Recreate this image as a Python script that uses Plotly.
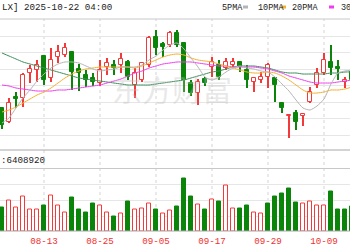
import plotly.graph_objects as go

# ---- data ----
tick_idx = [6, 14, 22, 30, 38, 46]
tick_labels = ["08-13", "08-25", "09-05", "09-17", "09-29", "10-09"]

opens = [4.60, 3.90, 5.15, 5.10, 6.35, 6.50, 7.20, 6.10, 7.15, 7.25,
         7.40, 6.55, 6.25, 6.10, 5.85, 6.65, 6.75, 6.75, 6.90, 5.75,
         6.00, 6.75, 8.15, 7.80, 7.75, 8.35, 7.85, 5.85, 5.35, 6.05,
         6.65, 6.75, 6.60, 6.75, 6.90, 6.50, 5.90, 6.00, 6.15, 6.10,
         4.85, 4.20, 4.35, 4.20, 4.90, 5.75, 6.35, 6.90, 6.65, 5.90, 6.40]
highs = [4.65, 5.10, 5.40, 6.35, 6.75, 7.00, 7.25, 7.60, 7.75, 7.85,
         7.45, 6.80, 6.50, 6.35, 7.00, 7.10, 7.00, 7.35, 7.00, 6.60,
         6.90, 8.20, 8.50, 7.90, 8.45, 8.50, 7.90, 6.00, 6.05, 6.15,
         7.15, 7.00, 7.10, 7.10, 6.95, 6.75, 6.15, 6.40, 6.85, 6.15,
         4.90, 4.25, 4.50, 4.30, 5.65, 6.60, 7.35, 7.75, 7.00, 6.15, 6.50]
lows = [3.55, 3.85, 4.60, 4.65, 5.85, 5.90, 5.75, 5.90, 6.85, 7.15,
        5.50, 5.45, 5.65, 5.70, 5.70, 6.25, 6.25, 6.35, 6.00, 5.10,
        5.90, 6.65, 7.25, 7.15, 7.65, 7.65, 5.40, 5.20, 4.75, 5.70,
        6.15, 6.00, 6.50, 6.65, 6.40, 5.60, 5.40, 5.85, 5.60, 4.90,
        4.35, 3.10, 3.50, 3.70, 4.85, 5.60, 6.25, 6.25, 6.00, 5.60, 5.90]
closes = [3.75, 4.85, 5.05, 6.25, 6.55, 6.75, 6.00, 7.00, 7.40, 7.60,
          6.40, 6.35, 6.00, 5.90, 6.50, 6.85, 6.60, 7.05, 6.15, 6.35,
          6.85, 8.10, 7.60, 7.65, 8.35, 7.75, 6.00, 5.35, 5.90, 5.85,
          6.90, 6.15, 6.90, 6.90, 6.65, 6.00, 6.10, 6.15, 6.75, 5.75,
          4.60, 4.25, 3.90, 4.30, 5.40, 6.35, 7.00, 6.60, 6.55, 6.00, 6.00]

ma5 = [3.85, 4.10, 4.60, 5.10, 5.50, 5.95, 6.30, 6.60, 6.80, 6.90,
       6.90, 6.85, 6.70, 6.55, 6.45, 6.50, 6.55, 6.65, 6.65, 6.65,
       6.75, 7.00, 7.20, 7.50, 7.75, 7.85, 7.55, 7.10, 6.65, 6.15,
       6.00, 6.15, 6.40, 6.60, 6.70, 6.60, 6.55, 6.45, 6.40, 6.15,
       5.80, 5.45, 5.00, 4.60, 4.50, 4.70, 5.05, 5.80, 6.35, 6.45, 6.50]
ma10 = [4.40, 4.50, 4.65, 4.85, 5.05, 5.25, 5.40, 5.60, 5.85, 6.10,
        6.30, 6.45, 6.55, 6.60, 6.65, 6.65, 6.65, 6.65, 6.65, 6.60,
        6.70, 6.85, 7.00, 7.15, 7.25, 7.30, 7.25, 7.10, 7.00, 6.95,
        6.90, 6.80, 6.70, 6.60, 6.50, 6.40, 6.35, 6.35, 6.40, 6.35,
        6.20, 6.00, 5.75, 5.50, 5.35, 5.35, 5.40, 5.50, 5.50, 5.55, 5.65]
ma20 = [5.75, 5.70, 5.60, 5.55, 5.50, 5.45, 5.45, 5.45, 5.50, 5.50,
        5.55, 5.60, 5.65, 5.70, 5.75, 5.85, 5.95, 6.05, 6.20, 6.35,
        6.45, 6.60, 6.70, 6.80, 6.85, 6.90, 6.90, 6.90, 6.85, 6.80,
        6.75, 6.70, 6.70, 6.65, 6.65, 6.65, 6.65, 6.60, 6.55, 6.45,
        6.35, 6.20, 6.10, 6.00, 5.90, 5.85, 5.85, 5.85, 5.90, 5.95, 6.00]
ma30 = [7.35, 7.20, 7.05, 6.90, 6.80, 6.70, 6.60, 6.50, 6.40, 6.30,
        6.20, 6.10, 6.05, 6.00, 5.95, 5.90, 5.85, 5.80, 5.75, 5.75,
        5.75, 5.75, 5.80, 5.85, 5.90, 5.95, 6.00, 6.10, 6.20, 6.30,
        6.40, 6.45, 6.55, 6.65, 6.70, 6.70, 6.70, 6.65, 6.60, 6.50,
        6.40, 6.35, 6.35, 6.30, 6.30, 6.30, 6.30, 6.35, 6.35, 6.40, 6.40]

volumes = [2410000, 3130000, 2410000, 3550000, 2240000, 2170000, 2620000, 3690000, 2620000, 1930000,
           3480000, 2240000, 1890000, 2860000, 2620000, 1890000, 1480000, 1830000, 3000000, 2170000,
           2350000, 2860000, 2240000, 1790000, 2070000, 2510000, 5340000, 3550000, 2760000, 2240000,
           3280000, 3000000, 4680000, 2350000, 2350000, 2620000, 1890000, 1790000, 2820000, 3550000,
           3860000, 4370000, 2890000, 2820000, 3070000, 2660000, 2660000, 4030000, 2240000, 2170000, 2500000]
vol_up = [0, 1, 1, 1, 1, 1, 0, 1, 1, 1,
          0, 0, 0, 0, 1, 1, 0, 1, 0, 1,
          1, 1, 0, 1, 1, 0, 0, 0, 1, 0,
          1, 0, 1, 1, 0, 0, 1, 1, 0, 0,
          0, 0, 0, 1, 1, 1, 1, 0, 0, 0, 0]
vol_max_label = "6408920"

# ---- styling ----
RED = "#f23a3a"
GREEN = "#0a850a"
C_MA5 = "#b5b5b5"
C_MA10 = "#f5b02e"
C_MA20 = "#f03cf0"
C_MA30 = "#3b8f5a"
GRID = "#e6e6e6"
FONT = "Liberation Mono"

W, H = 350, 250
def py(p):  # pixel row -> paper y
    return 1 - p / H
def px(p):
    return p / W

n = len(closes)
xs = list(range(n))
up = [c >= o for o, c in zip(opens, closes)]

fig = go.Figure()

# wicks (thin bars, drawn first)
fig.add_trace(go.Bar(
    x=xs, y=[h - l for h, l in zip(highs, lows)], base=lows, width=0.15,
    marker=dict(color=[RED if u else GREEN for u in up], line=dict(width=0)),
    yaxis="y", hoverinfo="skip", showlegend=False))
# bodies
body_base = [min(o, c) for o, c in zip(opens, closes)]
body_h = [max(abs(c - o), 0.03) for o, c in zip(opens, closes)]
fig.add_trace(go.Bar(
    x=xs, y=body_h, base=body_base, width=0.68,
    marker=dict(color=["#ffffff" if u else GREEN for u in up],
                line=dict(color=[RED if u else GREEN for u in up], width=1)),
    yaxis="y", hoverinfo="skip", showlegend=False))

for vals, col in [(ma30, C_MA30), (ma20, C_MA20), (ma10, C_MA10), (ma5, C_MA5)]:
    fig.add_trace(go.Scatter(x=xs, y=vals, mode="lines",
                             line=dict(color=col, width=1, shape="spline", smoothing=0.6),
                             yaxis="y", hoverinfo="skip", showlegend=False))

# volume
fig.add_trace(go.Bar(
    x=xs, y=volumes, width=0.68,
    marker=dict(color=["#ffffff" if u else GREEN for u in vol_up],
                line=dict(color=[RED if u else GREEN for u in vol_up], width=1)),
    yaxis="y2", hoverinfo="skip", showlegend=False))

price_lo, price_hi = 2.5, 9.05
price_grid = [3.25, 4.075, 4.9, 5.725, 6.55, 7.375, 8.2]
vol_hi = 6408920
vol_grid = [vol_hi * k / 62 for k in (14, 30, 46)]

shapes = []
# vertical dashed grid lines
for t in tick_idx:
    shapes.append(dict(type="line", xref="x", yref="paper", x0=t, x1=t,
                       y0=py(231), y1=py(19), line=dict(color="#d4d4d4", width=1, dash="3px,3px"), layer="below"))
# panel borders
for row, col in [(19, "#c8c8c8"), (150, "#a8a8a8"), (168.5, "#c8c8c8"), (231, "#a8a8a8")]:
    shapes.append(dict(type="line", xref="paper", yref="paper", x0=0, x1=1, y0=py(row), y1=py(row),
                       line=dict(color=col, width=1)))
# legend swatches
shapes.append(dict(type="rect", xref="paper", yref="paper", x0=px(243), x1=px(248), y0=py(8.5), y1=py(5.5),
                   line=dict(width=0), fillcolor=C_MA5))
shapes.append(dict(type="rect", xref="paper", yref="paper", x0=px(281), x1=px(286), y0=py(8.5), y1=py(5.5),
                   line=dict(width=0), fillcolor=C_MA10))
shapes.append(dict(type="rect", xref="paper", yref="paper", x0=px(329), x1=px(334), y0=py(8.5), y1=py(5.5),
                   line=dict(width=0), fillcolor=C_MA20))

annotations = [
    dict(text="LX] 2025-10-22 04:00", x=px(0), y=py(7.5), xref="paper", yref="paper",
         xanchor="left", yanchor="middle", showarrow=False, font=dict(family=FONT, size=9.2, color="#222")),
    dict(text="5PMA", x=px(220), y=py(7.5), xref="paper", yref="paper", xanchor="left", yanchor="middle",
         showarrow=False, font=dict(family=FONT, size=8.5, color="#222")),
    dict(text="10PMA", x=px(256), y=py(7.5), xref="paper", yref="paper", xanchor="left", yanchor="middle",
         showarrow=False, font=dict(family=FONT, size=8.5, color="#222")),
    dict(text="20PMA", x=px(290), y=py(7.5), xref="paper", yref="paper", xanchor="left", yanchor="middle",
         showarrow=False, font=dict(family=FONT, size=8.5, color="#222")),
    dict(text="30", x=px(339), y=py(7.5), xref="paper", yref="paper", xanchor="left", yanchor="middle",
         showarrow=False, font=dict(family=FONT, size=8.5, color="#222")),
    dict(text=":" + vol_max_label, x=px(-1), y=py(160), xref="paper", yref="paper", xanchor="left",
         yanchor="middle", showarrow=False, font=dict(family=FONT, size=9.2, color="#222")),
    dict(text="东方财富", x=px(172), y=py(88), xref="paper", yref="paper", xanchor="center",
         yanchor="middle", showarrow=False,
         font=dict(family="Noto Sans CJK SC", size=30, color="rgba(190,190,190,0.35)")),
]

fig.update_layout(
    width=W, height=H, margin=dict(l=0, r=0, t=0, b=0),
    paper_bgcolor="white", plot_bgcolor="white",
    barmode="overlay", bargap=0, showlegend=False,
    xaxis=dict(range=[-2 / 7, 348 / 7], anchor="y2", tickmode="array", tickvals=tick_idx,
               ticktext=tick_labels, showgrid=False, zeroline=False, showline=False, ticks="",
               ticklabelstandoff=3,
               tickfont=dict(family=FONT, size=9.2, color="#f03030")),
    yaxis=dict(domain=[py(150), py(19)], range=[price_lo, price_hi], tickmode="array",
               tickvals=price_grid, showticklabels=False, gridcolor=GRID, gridwidth=1,
               zeroline=False, showline=False),
    yaxis2=dict(domain=[py(231), py(168.5)], range=[0, vol_hi], tickmode="array",
                tickvals=vol_grid, showticklabels=False, gridcolor=GRID, gridwidth=1,
                zeroline=False, showline=False),
    shapes=shapes, annotations=annotations,
)

fig.write_html("out.html")
